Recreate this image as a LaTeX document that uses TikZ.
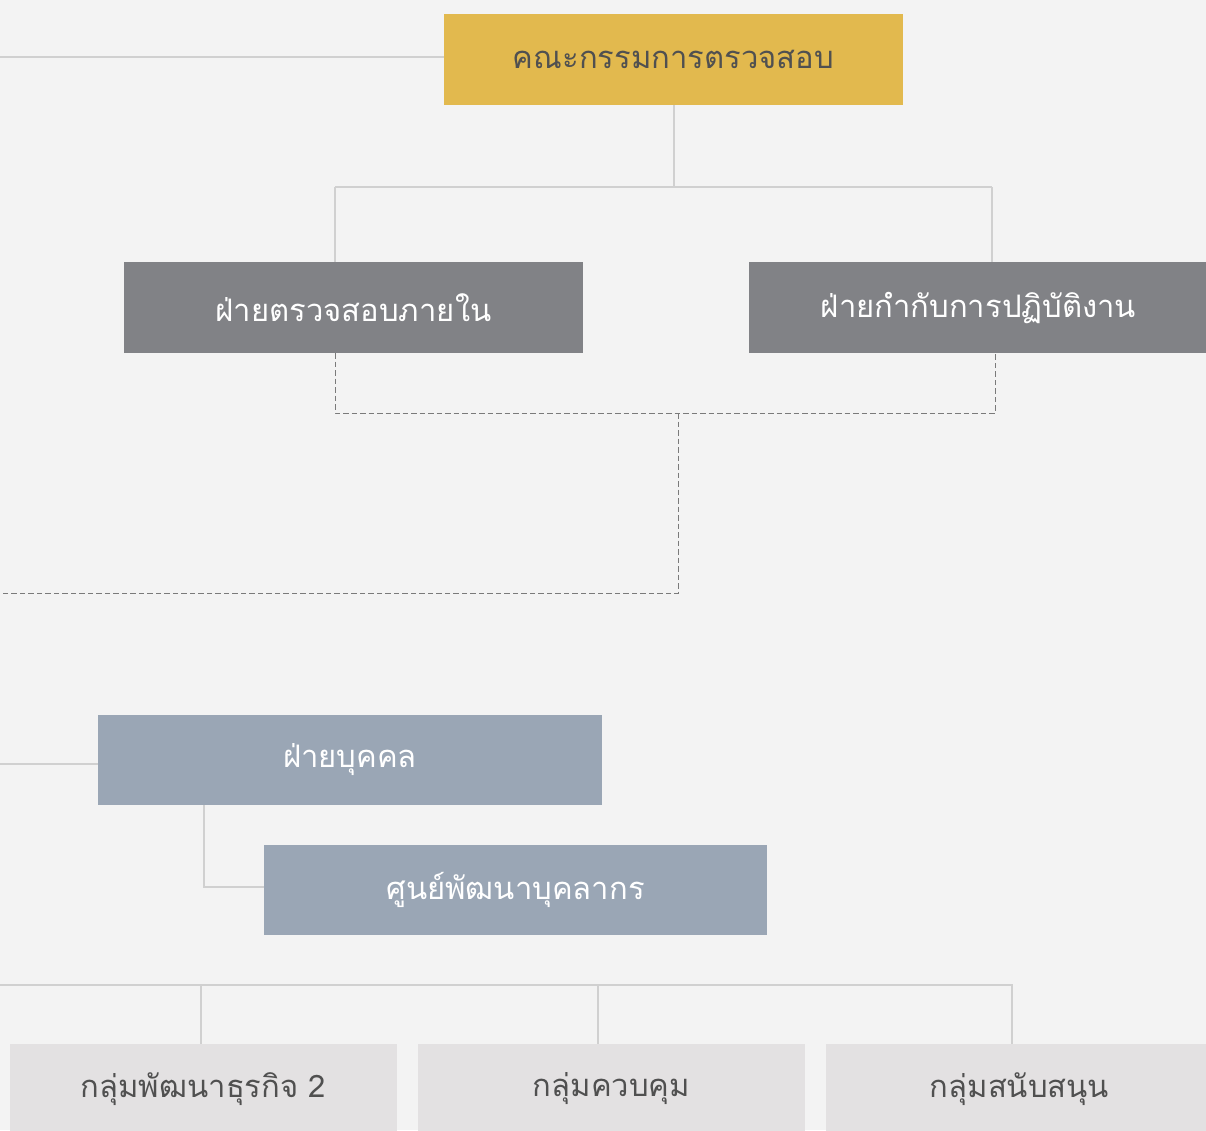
\documentclass[tikz,border=0pt]{standalone}
\usepackage{fontspec}
\newfontfamily\thaifont[Script=Thai]{Loma}
\definecolor{bg}{HTML}{F3F3F3}
\definecolor{gold}{HTML}{E2B94E}
\definecolor{darkbox}{HTML}{818286}
\definecolor{bluebox}{HTML}{9AA6B5}
\definecolor{lightbox}{HTML}{E3E1E2}
\definecolor{conn}{HTML}{D0D0D0}
\definecolor{dashc}{HTML}{7A7A7A}
\definecolor{txtdark}{HTML}{505050}
\tikzset{
  box/.style={rectangle, inner sep=0pt, outer sep=0pt, font=\thaifont\fontsize{31}{36}\selectfont},
  goldbox/.style={box, fill=gold, text=txtdark, minimum width=459pt, minimum height=91pt},
  greybox/.style={box, fill=darkbox, text=white, minimum width=459pt, minimum height=91pt},
  bluebx/.style={box, fill=bluebox, text=white, minimum width=504pt, minimum height=90pt},
  lightbx/.style={box, fill=lightbox, text=txtdark, minimum width=387pt, minimum height=90pt},
  solidconn/.style={draw=conn, line width=2pt},
  dashconn/.style={draw=dashc, line width=1pt, dash pattern=on 5.5pt off 3pt},
}
\begin{document}
\begin{tikzpicture}[x=1pt,y=-1pt]
\useasboundingbox (0,0) rectangle (1206,1130);
\clip (0,0) rectangle (1206,1130);
\fill[bg] (0,0) rectangle (1206,1130);
% boxes
\node[goldbox] (audit) at (673.5,59.5) {คณะกรรมการตรวจสอบ};
\node[greybox] (internal) at (353.5,307.5) {ฝ่ายตรวจสอบภายใน};
\node[greybox] (compliance) at (978.5,307.5) {ฝ่ายกำกับการปฏิบัติงาน};
\node[bluebx] (hr) at (350,760) {ฝ่ายบุคคล};
\node[bluebx, minimum width=503pt] (hrdev) at (515.5,890) {ศูนย์พัฒนาบุคลากร};
\node[lightbx] (bizdev) at (203.5,1089) {กลุ่มพัฒนาธุรกิจ 2};
\node[lightbx] (control) at (611.5,1089) {กลุ่มควบคุม};
\node[lightbx] (support) at (1019.5,1089) {กลุ่มสนับสนุน};
% coordinates for connectors
\coordinate (Ltop) at (0,57);
\coordinate (J1) at (673.5,187);
\coordinate (Jl) at (335,187);
\coordinate (Jr) at (992,187);
\coordinate (Dl) at (335,413);
\coordinate (Dr) at (995,413);
\coordinate (Dm) at (678,413);
\coordinate (Dm2) at (678,593);
\coordinate (Dend) at (0,593);
\coordinate (Lhr) at (0,764);
\coordinate (Bj) at (204,887);
\coordinate (Hb) at (0,985);
\coordinate (Hbr) at (1012,985);
% solid connectors
\draw[solidconn] (Ltop) -- (Ltop -| audit.west);
\draw[solidconn] (audit.south) -- (J1);
\draw[solidconn] (Jl) -- (Jr);
\draw[solidconn] (Jl) -- (Jl |- internal.north);
\draw[solidconn] (Jr) -- (Jr |- compliance.north);
\draw[solidconn] (Lhr) -- (Lhr -| hr.west);
\draw[solidconn] (Bj |- hr.south) -- (Bj) -- (Bj -| hrdev.west);
\draw[solidconn] (Hb) -- (Hbr) -- (Hbr |- support.north);
\draw[solidconn] (Hb -| bizdev.north) ++(-2.5,0) -- ++(0,59);
\draw[solidconn] (Hb -| control.north) ++(-13.5,0) -- ++(0,59);
% dashed connectors
\draw[dashconn] (Dl |- internal.south) -- (Dl) -- (Dr) -- (Dr |- compliance.south);
\draw[dashconn] (Dm) -- (Dm2) -- (Dend);
\end{tikzpicture}
\end{document}
